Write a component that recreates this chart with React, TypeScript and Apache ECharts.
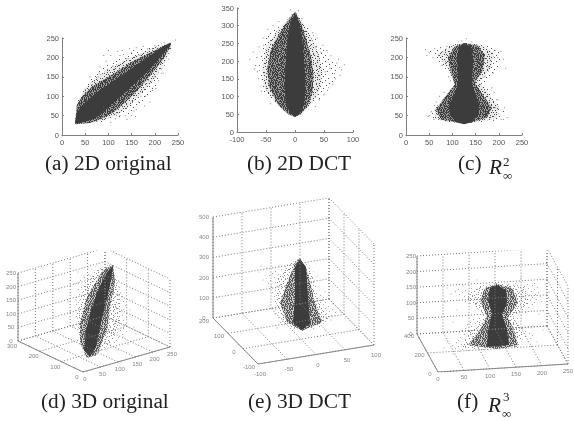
import React, { useEffect, useRef } from "react";
import * as echarts from "echarts";

type Pt = number[];

// 2D panel (a): 2D original
const aCore: Pt[] = [[28,32],[32,58],[42,75],[60,95],[80,115],[100,130],[130,155],[160,180],[190,205],[220,230],[234,238],[234,232],[222,215],[205,190],[180,158],[150,125],[125,97],[100,72],[85,55],[70,42],[50,34],[35,30],[28,29]];
const aDense: Pt[] = [[28,32],[32,78],[45,102],[65,125],[90,143],[120,165],[155,192],[195,215],[234,238],[234,228],[218,195],[195,160],[165,118],[140,88],[115,62],[90,44],[60,31],[30,28]];
const aMid: Pt[] = [[28,32],[34,88],[48,118],[70,145],[100,170],[130,190],[165,208],[200,226],[234,240],[236,226],[222,190],[200,145],[170,105],[145,75],[118,50],[90,38],[55,30]];
const aSparse: Pt[] = [[30,60],[40,100],[55,135],[80,170],[110,195],[150,218],[190,230],[234,240],[236,225],[225,190],[205,130],[175,85],[150,55],[120,45],[85,32],[50,28]];
const aOut: Pt[] = [[82,175],[80,160],[78,150],[100,218],[125,205],[130,218],[150,212],[160,225],[175,228],[185,222],[200,230],[220,238],[245,245],[230,195],[215,170],[208,140],[200,150],[195,115],[180,100],[165,85],[160,65],[150,50],[140,40],[125,50],[115,42],[90,72],[70,140],[60,150],[50,118],[110,178],[95,190],[140,198],[168,205],[202,120],[190,85],[178,75],[158,48],[105,32],[75,35],[218,160],[120,215],[145,222],[90,205],[105,205],[65,130],[155,62],[170,100],[186,140],[212,185],[98,168]];

// 2D panel (b): 2D DCT
const bCore: Pt[] = [[0,335],[7,310],[12,270],[15,220],[17,170],[18,120],[16,80],[9,55],[0,42],[-9,55],[-16,80],[-18,120],[-17,170],[-15,220],[-12,270],[-7,310]];
const bDense: Pt[] = [[0,340],[10,310],[20,260],[28,210],[32,160],[30,110],[22,75],[10,50],[0,42],[-12,50],[-28,75],[-38,105],[-45,130],[-48,180],[-42,230],[-28,275],[-12,315]];
const bMid: Pt[] = [[0,340],[15,305],[30,260],[42,215],[48,165],[42,115],[28,80],[12,50],[0,42],[-12,50],[-32,80],[-46,108],[-54,130],[-56,185],[-50,240],[-34,280],[-16,312]];
const bSparse: Pt[] = [[0,340],[20,300],[42,250],[66,205],[78,180],[58,120],[35,80],[12,50],[0,42],[-12,50],[-35,85],[-52,110],[-60,130],[-62,195],[-60,245],[-40,285],[-20,310]];
const bOut: Pt[] = [[-78,205],[-72,225],[-68,188],[-65,170],[-62,240],[-55,265],[-47,290],[-38,300],[-28,312],[-8,345],[-5,332],[6,342],[12,320],[30,280],[38,265],[48,245],[55,230],[62,215],[72,195],[85,190],[80,175],[78,160],[70,150],[65,135],[58,125],[50,105],[42,90],[35,72],[-42,80],[-58,115],[-63,150],[-70,178],[-54,245],[52,170],[60,180],[68,165],[45,225],[36,240],[75,205],[-66,210]];

// 2D panel (c): R-infinity squared
const cCore: Pt[] = [[125,235],[140,228],[145,200],[143,160],[143,130],[150,105],[158,80],[155,50],[140,32],[125,28],[110,32],[95,50],[93,80],[105,105],[112,130],[112,160],[110,200],[115,228]];
const cDense: Pt[] = [[125,237],[155,230],[170,205],[165,165],[148,135],[165,105],[185,70],[175,45],[140,32],[110,32],[75,40],[65,65],[85,100],[105,130],[95,170],[90,200],[105,228]];
const cMid: Pt[] = [[125,238],[162,232],[190,212],[182,170],[158,135],[178,105],[200,72],[195,42],[140,31],[90,33],[62,42],[62,68],[90,105],[107,132],[90,170],[68,208],[98,230]];
const cSparse: Pt[] = [[125,240],[170,232],[208,215],[200,170],[170,135],[190,100],[215,60],[212,40],[140,30],[52,44],[60,75],[95,110],[108,135],[85,170],[48,215],[90,232]];
const cOut: Pt[] = [[42,220],[45,205],[50,212],[58,200],[62,222],[70,205],[75,225],[85,190],[88,228],[78,180],[100,170],[192,218],[205,215],[198,200],[210,195],[188,160],[178,175],[170,150],[50,50],[55,60],[60,40],[65,85],[72,100],[82,110],[190,110],[198,90],[212,70],[218,45],[205,40],[200,55],[185,122],[130,248],[120,242],[142,240],[96,140],[92,150],[160,130],[215,172],[48,48],[192,70]];

// Panel (d): 3D original, projected page units
const dCore: Pt[] = [[95,106],[93,92],[88,69],[82,45],[78,25],[72,15],[66,22],[68,42],[73,62],[80,82],[89,100]];
const dDense: Pt[] = [[95,107],[97,89],[92,65],[89,42],[79,17],[69,14],[62,29],[62,49],[69,75],[85,102]];
const dMid: Pt[] = [[95,107],[102,80],[102,50],[92,28],[72,14],[62,30],[59,58],[64,84],[84,106]];
const dSparse: Pt[] = [[95,107],[107,75],[110,42],[95,25],[72,14],[62,32],[56,65],[60,92],[82,109]];
const dOut: Pt[] = [[56,88],[58,72],[52,60],[60,100],[66,96],[72,96],[112,62],[116,45],[118,38],[105,35],[110,28],[100,22],[64,20],[56,45],[50,70],[70,104],[114,72],[104,60]];

// Panel (e): 3D DCT
const eCore: Pt[] = [[87,105],[93,97],[95,67],[97,41],[89,34],[80,41],[82,67],[82,97]];
const eDense: Pt[] = [[87,106],[95,91],[102,61],[109,42],[89,33],[74,42],[67,61],[74,81],[82,101]];
const eMid: Pt[] = [[87,106],[98,92],[105,66],[117,46],[100,36],[89,32],[70,41],[63,62],[64,86],[78,101]];
const eSparse: Pt[] = [[87,106],[100,94],[107,71],[125,51],[110,37],[89,32],[67,41],[59,64],[52,91],[74,99]];
const eOut: Pt[] = [[46,92],[50,84],[54,96],[60,90],[48,98],[58,78],[66,98],[120,60],[128,52],[132,46],[118,44],[112,34],[56,58],[62,50],[104,88],[112,72],[64,36]];

// Panel (f): R-infinity cubed
const fCore: Pt[] = [[80,87],[89,82],[90,69],[85,57],[90,42],[92,27],[70,25],[71,42],[75,59],[71,72],[73,84]];
const fDense: Pt[] = [[80,88],[95,84],[101,69],[91,55],[98,39],[101,27],[81,23],[51,27],[61,39],[70,55],[63,72],[68,84]];
const fMid: Pt[] = [[80,89],[108,86],[113,69],[96,55],[108,37],[101,25],[70,22],[42,24],[54,42],[68,56],[48,76],[62,86]];
const fSparse: Pt[] = [[80,89],[121,89],[125,69],[101,54],[118,35],[98,24],[41,20],[33,25],[48,49],[65,57],[30,83],[55,84]];
const fOut: Pt[] = [[30,84],[34,78],[28,70],[40,62],[36,50],[46,86],[128,88],[132,80],[130,66],[122,58],[116,46],[126,42],[120,30],[30,30],[27,24],[36,18],[60,92],[104,94]];

// Tick labels
const ticks250 = [0, 50, 100, 150, 200, 250];
const ticksB = [-100, -50, 0, 50, 100];
const ticksB2 = [0, 50, 100, 150, 200, 250, 300, 350];
const dYTicks = [0, 100, 200, 300];
const eXTicks = [-100, -50, 0, 50, 100];
const eYTicks = [-100, 0, 100, 200];
const eZTicks = [0, 100, 200, 300, 400, 500];
const fYTicks = [0, 200, 400];

// Speckle tiles used to fill the density regions
const TILE_DENSE = [
  "#.#.##.#.#.##.",
  ".##.#.#..##.#.",
  "#.#.#.###.#...",
  "##.#...#.#.#.#",
  ".#.##.#.##.#..",
  "#.#...#.#.##.#",
  ".###.#.#.#.#..",
  "#.#.#.##.#..#.",
  ".#.##.#...###.",
  "##...#.##.#..#",
  ".#.#.##.#.##..",
  "#.##.#.#.#.#.#",
  ".#..#.##.#..##",
  "#.#.#..#.##.#.",
];
const TILE_MID = [
  "#.....#......#...",
  "...#.......#.....",
  ".......#.......#.",
  "..#.........#....",
  ".....#..#........",
  "#..........#.....",
  "....#.#........#.",
  ".........#...#...",
  "..#..............",
  ".......#...#.....",
  "#....#.........#.",
  "...........#.....",
  "...#.....#.......",
  ".......#......#..",
  "#...#...........#",
  "..........#..#...",
  "...#.............",
];
const TILE_SPARSE = [
  "#..................",
  "...........#.......",
  ".....#.............",
  "...............#...",
  "..#................",
  ".........#.........",
  "..................#",
  "......#............",
  "............#......",
  "...#...............",
  "................#..",
  "........#..........",
  "#..................",
  "............#......",
  "....#..............",
  ".................#.",
  ".........#.........",
  "..#................",
  "..............#....",
];

function tile(rows: string[], color: string, base = "") {
  const c = document.createElement("canvas");
  c.width = rows[0].length;
  c.height = rows.length;
  const g = c.getContext("2d")!;
  if (base) { g.fillStyle = base; g.fillRect(0, 0, c.width, c.height); }
  g.fillStyle = color;
  rows.forEach((r, y) => r.split("").forEach((ch, x) => { if (ch === "#") g.fillRect(x, y, 1, 1); }));
  return { image: c, repeat: "repeat" };
}

function polygonSeries(ring: Pt[], fill: any, idx: number) {
  return {
    type: "custom", coordinateSystem: "cartesian2d", xAxisIndex: idx, yAxisIndex: idx, silent: true,
    data: ring,
    renderItem: (p: any, api: any) => p.dataIndex !== 0 ? null : ({
      type: "polygon", shape: { points: ring.map((q) => api.coord(q)) }, style: { fill },
    }),
  };
}
function speck(pts: Pt[], idx: number, color: string) {
  return { type: "scatter", xAxisIndex: idx, yAxisIndex: idx, symbol: "rect", symbolSize: 1, silent: true, data: pts, itemStyle: { color } };
}

const LABEL = "#555";
const AXIS = "#808080";
const SANS = "'Liberation Sans', Arial, sans-serif";
const SERIF = "'Liberation Serif', 'Times New Roman', serif";

// 3D frames in page pixels
const frames = [
  { left: 18, bottom: 372, W: 152, H: 121, front: [83, 372], right: [170, 347], lft: [18, 341], up: 68,
    x: ticks250, y: dYTicks, z: ticks250,
    xOff: [2, -7], yOff: [-6, -5], zOff: [-7, 0], core: dCore, dense: dDense, mid: dMid, sparse: dSparse, out: dOut },
  { left: 213, bottom: 364, W: 161, H: 166, front: [258, 364], right: [374, 345], lft: [213, 318], up: 101,
    x: eXTicks, y: eYTicks, z: eZTicks,
    xOff: [2, -10], yOff: [-9, -3], zOff: [-9, 0], core: eCore, dense: eDense, mid: eMid, sparse: eSparse, out: eOut },
  { left: 417, bottom: 372, W: 151, H: 121, front: [438, 372], right: [568, 364], lft: [417, 334], up: 78,
    x: ticks250, y: fYTicks, z: ticks250,
    xOff: [0, -7], yOff: [-8, -2], zOff: [-6, 0], core: fCore, dense: fDense, mid: fMid, sparse: fSparse, out: fOut },
];

function buildOption() {
  const denseFill = tile(TILE_DENSE, "#3c3c3c", "rgba(60,60,60,0.45)");
  const midFill = tile(TILE_MID, "#4a4a4a", "rgba(80,80,80,0.12)");
  const sparseFill = tile(TILE_SPARSE, "#555");
  const dense3 = tile(TILE_DENSE, "#555", "rgba(90,90,90,0.3)");
  const mid3 = tile(TILE_MID, "#8a8a8a");
  const sparse3 = tile(TILE_SPARSE, "#aaa");
  const grid: any[] = [];
  const xAxis: any[] = [];
  const yAxis: any[] = [];
  const series: any[] = [];

  const axis2d = (min: number, max: number, interval: number) => ({
    type: "value", min, max, interval,
    splitLine: { show: false },
    axisLine: { show: true, onZero: false, lineStyle: { color: AXIS, width: 1 } },
    axisTick: { show: true, inside: true, length: 2, lineStyle: { color: AXIS } },
    axisLabel: { show: true, fontSize: 7.5, color: LABEL, fontFamily: SANS, margin: 3, hideOverlap: false, showMinLabel: true, showMaxLabel: true },
  });

  const panels2d = [
    { g: [62, 38, 116, 97], x: [0, 250, 50], y: [0, 250, 50], core: aCore, dense: aDense, mid: aMid, sparse: aSparse, out: aOut },
    { g: [237, 8, 116, 124], x: [ticksB[0], ticksB[4], 50], y: [ticksB2[0], ticksB2[7], 50], core: bCore, dense: bDense, mid: bMid, sparse: bSparse, out: bOut },
    { g: [406, 38, 116, 97], x: [0, 250, 50], y: [0, 250, 50], core: cCore, dense: cDense, mid: cMid, sparse: cSparse, out: cOut },
  ];
  panels2d.forEach((p: any, i) => {
    grid.push({ left: p.g[0], top: p.g[1], width: p.g[2], height: p.g[3], containLabel: false });
    xAxis.push({ gridIndex: i, ...axis2d(p.x[0], p.x[1], p.x[2]) });
    yAxis.push({ gridIndex: i, ...axis2d(p.y[0], p.y[1], p.y[2]) });
    series.push(polygonSeries(p.sparse, sparseFill, i));
    series.push(polygonSeries(p.mid, midFill, i));
    series.push(polygonSeries(p.dense, denseFill, i));
    series.push(polygonSeries(p.core, "#3c3c3c", i));
    series.push(speck(p.out, i, "#666"));
  });

  frames.forEach((f: any, k) => {
    const i = k + 3;
    grid.push({ left: f.left, top: f.bottom - f.H, width: f.W, height: f.H });
    const hidden = (max: number) => ({ gridIndex: i, type: "value", min: 0, max, show: false });
    xAxis.push(hidden(f.W));
    yAxis.push(hidden(f.H));
    const P = (a: number, b: number, c: number): Pt => [
      f.front[0] + a * (f.right[0] - f.front[0]) + b * (f.lft[0] - f.front[0]) - f.left,
      f.bottom - (f.front[1] + a * (f.right[1] - f.front[1]) + b * (f.lft[1] - f.front[1]) - c * f.up),
    ];
    const fr = (t: number[]) => t.map((v) => (v - t[0]) / (t[t.length - 1] - t[0]));
    const A = fr(f.x), B = fr(f.y), C = fr(f.z);
    const dotted: any[] = [];
    const seg = (p: Pt, q: Pt) => { dotted.push(p, q, [null, null]); };
    A.forEach((a) => { seg(P(a, 0, 0), P(a, 1, 0)); seg(P(a, 1, 0), P(a, 1, 1)); });
    B.forEach((b) => { seg(P(0, b, 0), P(1, b, 0)); seg(P(1, b, 0), P(1, b, 1)); });
    C.forEach((c) => { seg(P(0, 1, c), P(1, 1, c)); seg(P(1, 1, c), P(1, 0, c)); });
    series.push({
      type: "line", xAxisIndex: i, yAxisIndex: i, data: dotted, showSymbol: false, silent: true, connectNulls: false,
      lineStyle: { color: "#777", width: 1, type: [1, 2] },
    });
    series.push({
      type: "line", xAxisIndex: i, yAxisIndex: i, showSymbol: false, silent: true, connectNulls: false,
      data: [P(0, 1, 1), P(0, 1, 0), P(0, 0, 0), P(1, 0, 0)],
      lineStyle: { color: "#888", width: 1 },
    });
    series.push(polygonSeries(f.sparse, sparse3, i));
    series.push(polygonSeries(f.mid, mid3, i));
    series.push(polygonSeries(f.dense, dense3, i));
    series.push(polygonSeries(f.core, "#3c3c3c", i));
    series.push(speck(f.out, i, "#999"));

    const labels: any[] = [];
    const put = (p: Pt, off: number[], v: number) => labels.push([p[0] + off[0], p[1] + off[1], String(v)]);
    A.forEach((a, n) => put(P(a, 0, 0), f.xOff, f.x[n]));
    B.forEach((b, n) => put(P(0, b, 0), f.yOff, f.y[n]));
    C.forEach((c, n) => put(P(0, 1, c), f.zOff, f.z[n]));
    series.push({
      type: "scatter", xAxisIndex: i, yAxisIndex: i, symbolSize: 1, silent: true, itemStyle: { color: "transparent" }, clip: false,
      data: labels,
      label: { show: true, position: "inside", formatter: (q: any) => q.data[2], fontSize: 6, color: "#666", fontFamily: SANS },
    });
  });

  const cap = (x: number, y: number, text: string, extra: any = {}) => ({
    type: "text", x, y, style: { text, fontFamily: SERIF, fontSize: 21.3, fill: "#222", verticalAlign: "middle", ...extra },
  });
  const graphic = [
    cap(45, 163, "(a) 2D original"),
    cap(247, 163, "(b) 2D DCT"),
    cap(458, 163, "(c)"),
    cap(489, 167, "R", { fontStyle: "italic" }),
    cap(503, 161, "2", { fontSize: 13 }),
    cap(503, 175, "∞", { fontSize: 13 }),
    cap(41, 401, "(d) 3D original"),
    cap(248, 401, "(e) 3D DCT"),
    cap(457, 401, "(f)"),
    cap(488, 405, "R", { fontStyle: "italic" }),
    cap(503, 396, "3", { fontSize: 13 }),
    cap(502, 413, "∞", { fontSize: 13 }),
  ];

  return { animation: false, backgroundColor: "#fff", grid, xAxis, yAxis, series, graphic };
}

export default function App() {
  const ref = useRef<HTMLDivElement>(null);
  useEffect(() => {
    const chart = echarts.init(ref.current!, undefined, { renderer: "svg" });
    chart.setOption(buildOption() as any);
    return () => chart.dispose();
  }, []);
  return <div ref={ref} style={{ position: "absolute", left: 0, top: 0, width: 574, height: 421, filter: "blur(0.45px)" }} />;
}
